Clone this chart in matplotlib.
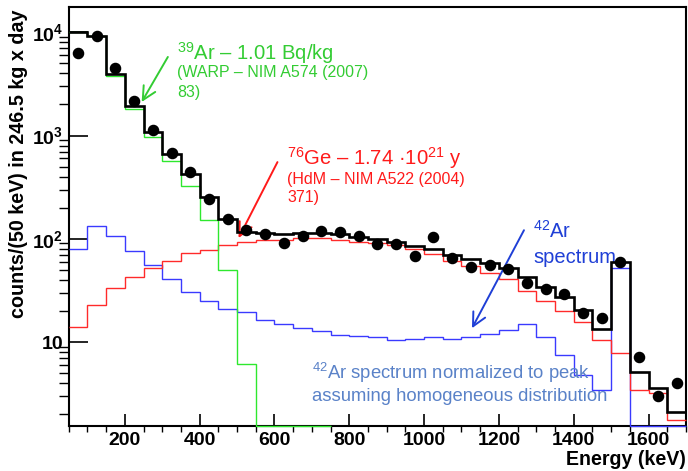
import numpy as np
import matplotlib
matplotlib.use("Agg")
import matplotlib.pyplot as plt
from matplotlib.ticker import MultipleLocator, LogLocator, FuncFormatter, NullFormatter

plt.rcParams['font.family'] = 'Liberation Sans'
plt.rcParams['mathtext.fontset'] = 'custom'
plt.rcParams['mathtext.rm'] = 'Liberation Sans'
plt.rcParams['mathtext.it'] = 'Liberation Sans:italic'
plt.rcParams['mathtext.bf'] = 'Liberation Sans:bold'

# --- dados (bins de 50 keV) ---
edges = [50, 100, 150, 200, 250, 300, 350, 400, 450, 500, 550, 600, 650, 700,
         750, 800, 850, 900, 950, 1000, 1050, 1100, 1150, 1200, 1250, 1300,
         1350, 1400, 1450, 1500, 1550, 1600, 1650, 1700]

total = [10000, 9300, 3950, 1930, 1075, 667, 424, 255, 157, 116, 113, 111, 115,
         113, 110, 104, 99, 94, 86, 80, 70, 64, 58, 52, 43, 34, 27.4, 20.2,
         13.5, 60, 5.1, 3.6, 2.1]

ar39 = [10000, 9150, 3810, 1810, 970, 570, 327, 152, 49.4, 6.07, 0, 0, 0, 0]

ge76 = [13.9, 22.6, 33.3, 42.2, 51.7, 61.2, 72.2, 78.5, 87.5, 93, 97, 97, 101,
        101, 97, 94, 90, 87, 79, 71, 61, 54, 47, 41, 31, 25, 20, 15.7, 10.4,
        7.9, 3.4, 3.2, 1.75]

ar42 = [79.4, 133.6, 107, 76.6, 55.2, 40.4, 30.5, 24.9, 20.8, 19.5, 16.4, 14.8,
        13.6, 12.9, 11.8, 11.5, 11.2, 10.5, 10.6, 11.2, 10.8, 11.2, 11.9, 13.0,
        14.9, 11.1, 7.5, 4.75, 3.4, 51.7, 0, 0, 0]

energy = [75, 125, 175, 225, 275, 325, 375, 425, 475, 525, 575, 625, 675, 725,
          775, 825, 875, 925, 975, 1025, 1075, 1125, 1175, 1225, 1275, 1325,
          1375, 1425, 1475, 1525, 1575, 1625, 1675]
counts = [6270, 9210, 4540, 2160, 1130, 672, 440, 243, 155, 121, 110, 90, 106,
          119, 117, 106, 89, 89, 68.4, 103, 65.5, 53.6, 55.6, 50.5, 37, 32.6,
          29, 18.9, 16.9, 59, 7.1, 3.0, 4.0]

fig = plt.figure(figsize=(6.88, 4.71), dpi=100)
ax = fig.add_axes([0.0999, 0.0955, 0.8971, 0.8896])
ax.set_yscale('log')
ax.set_xlim(50, 1700)
ax.set_ylim(1.535, 17580)
ymin = ax.get_ylim()[0]

# bins vazios ficam desenhados na borda de baixo, como no ROOT
ax.stairs(np.maximum(ar42, ymin), edges, baseline=None, color='#3a3aff', lw=1.0,
          zorder=3, clip_on=False)
ax.stairs(np.maximum(ge76, ymin), edges, baseline=None, color='#ff2a2a', lw=1.0,
          zorder=3, clip_on=False)
ax.stairs(np.maximum(ar39, ymin), edges[:len(ar39) + 1], baseline=None,
          color='#2ee82e', lw=1.0, zorder=3, clip_on=False)
ax.stairs(total, edges, baseline=None, color='black', lw=1.9, zorder=3.5)
ax.plot(energy, counts, 'o', color='black', markersize=7.3, zorder=4)

# eixos
ax.xaxis.set_major_locator(MultipleLocator(200))
ax.xaxis.set_minor_locator(MultipleLocator(50))
ax.yaxis.set_major_locator(LogLocator(base=10))
ax.yaxis.set_minor_locator(LogLocator(base=10, subs=np.arange(2, 10)))
ax.yaxis.set_minor_formatter(NullFormatter())


def ylab(v, pos):
    n = int(round(np.log10(v)))
    if n == 1:
        return '10'
    return '$\\mathbf{10^{%d}}$' % n


ax.yaxis.set_major_formatter(FuncFormatter(ylab))
ax.tick_params(direction='in', top=False, right=False, width=1.2,
               labelsize=14, pad=4)
ax.tick_params(axis='y', which='major', length=13.5)
ax.tick_params(axis='y', which='minor', length=7, width=1.0)
ax.tick_params(axis='x', which='major', length=9)
ax.tick_params(axis='x', which='minor', length=4.5, width=1.0)
for lab in ax.get_xticklabels() + ax.get_yticklabels():
    lab.set_fontweight('bold')
for s in ax.spines.values():
    s.set_linewidth(1.5)

fig.text(0.0276, 0.652, 'counts/(50 keV) in 246.5 kg x day', rotation=90,
         ha='center', va='center', fontsize=14.2, fontweight='bold')
fig.text(0.997, 0.0234, 'Energy (keV)', ha='right', va='center',
         fontsize=14.1, fontweight='bold')

# --- anotações ---
green_txt = '#33cc33'
red_txt = '#ff1a1a'
blue_txt = '#1f3fd6'
lblue_txt = '#5a82c8'
seta = dict(arrowstyle='->,head_length=0.6,head_width=0.3', lw=1.4,
            mutation_scale=16, shrinkA=0, shrinkB=0)

ax.text(0.1754, 0.875, '$^{39}$Ar – 1.01 Bq/kg', transform=ax.transAxes,
        color=green_txt, fontsize=14.6, va='baseline')
ax.text(0.1754, 0.833, '(WARP – NIM A574 (2007)', transform=ax.transAxes,
        color=green_txt, fontsize=11.5, va='baseline')
ax.text(0.1754, 0.786, '83)', transform=ax.transAxes,
        color=green_txt, fontsize=11.5, va='baseline')
ax.annotate('', xy=(245, 2113), xytext=(315, 5770),
            arrowprops=dict(seta, color=green_txt))

ax.text(0.3536, 0.623, '$^{76}$Ge – 1.74 ·10$^{21}$ y', transform=ax.transAxes,
        color=red_txt, fontsize=14.6, va='baseline')
ax.text(0.3536, 0.578, '(HdM – NIM A522 (2004)', transform=ax.transAxes,
        color=red_txt, fontsize=11.5, va='baseline')
ax.text(0.3536, 0.535, '371)', transform=ax.transAxes,
        color=red_txt, fontsize=11.5, va='baseline')
ax.annotate('', xy=(504, 101.6), xytext=(608, 553),
            arrowprops=dict(seta, color=red_txt))

ax.text(0.7521, 0.449, '$^{42}$Ar', transform=ax.transAxes,
        color=blue_txt, fontsize=14.5, va='baseline')
ax.text(0.7521, 0.389, 'spectrum', transform=ax.transAxes,
        color=blue_txt, fontsize=14.5, va='baseline')
ax.annotate('', xy=(1128, 13.6), xytext=(1267, 121),
            arrowprops=dict(seta, color=blue_txt))

ax.text(0.3941, 0.112, '$^{42}$Ar spectrum normalized to peak',
        transform=ax.transAxes, color=lblue_txt, fontsize=13.3, va='baseline')
ax.text(0.3941, 0.060, 'assuming homogeneous distribution',
        transform=ax.transAxes, color=lblue_txt, fontsize=13.3, va='baseline')

fig.savefig('out.png', dpi=100)
